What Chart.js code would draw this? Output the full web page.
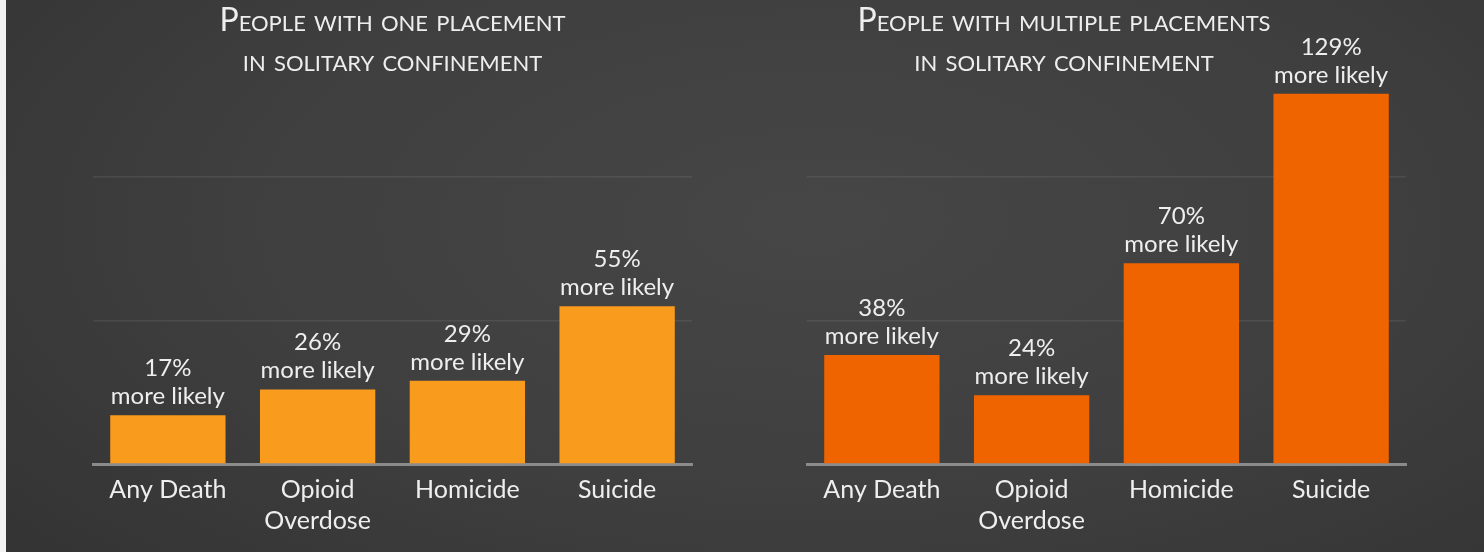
<!DOCTYPE html>
<html>
<head>
<meta charset="utf-8">
<script src="https://cdn.jsdelivr.net/npm/chart.js@4"></script>
<style>
  html, body { margin: 0; padding: 0; }
  body {
    width: 1484px; height: 552px; overflow: hidden; position: relative;
    background: radial-gradient(ellipse 70% 90% at 55% 40%, #464646 0%, #3f3f3f 55%, #343434 100%);
  }
  #strip { position: absolute; left: 0; top: 0; width: 6px; height: 552px; background: #f2f2f2; }
  canvas { position: absolute; top: 0; }
  #one { left: 0; }
  #multi { left: 722px; }
</style>
</head>
<body>
<div id="strip"></div>
<canvas id="one" width="742" height="552"></canvas>
<canvas id="multi" width="762" height="552"></canvas>
<script>
// categories and values (percent more likely)
let CATEGORIES = [["Any Death"], ["Opioid", "Overdose"], ["Homicide"], ["Suicide"]];
let ONE_PLACEMENT = [17, 26, 29, 55];
let MULTI_PLACEMENTS = [38, 24, 70, 129];
let GRID_VALUES = [50, 100];

let ORANGE = "#f99b1c";
let DARK_ORANGE = "#f06400";
let TEXT = "#eeeeee";

// two-line label over each bar: "NN%" / "more likely"
var barLabels = {
  id: 'barLabels',
  afterDatasetsDraw(chart) {
    var ctx = chart.ctx;
    var meta = chart.getDatasetMeta(0);
    var values = chart.data.datasets[0].data;
    ctx.save();
    ctx.fillStyle = TEXT;
    ctx.font = "24px Lato";
    ctx.textAlign = "center";
    ctx.textBaseline = "middle";
    meta.data.forEach(function(bar, i) {
      ctx.fillText(values[i] + "%", bar.x, bar.y - 47);
      ctx.fillText("more likely", bar.x, bar.y - 19);
    });
    ctx.restore();
  }
};

function makeChart(id, title, values, color, yWidth, padRight, fullTitle) {
  var ctx = document.getElementById(id).getContext('2d');
  return new Chart(ctx, {
    type: 'bar',
    data: {
      labels: CATEGORIES,
      datasets: [{
        data: values,
        backgroundColor: color,
        barPercentage: 0.77,
        categoryPercentage: 1.0
      }]
    },
    options: {
      responsive: false,
      animation: false,
      devicePixelRatio: 1,
      layout: { padding: { left: fullTitle ? 0 : 93, right: padRight, top: 0, bottom: 0 } },
      plugins: {
        legend: { display: false },
        tooltip: { enabled: false },
        title: {
          display: true,
          text: title,
          color: TEXT,
          fullSize: fullTitle,
          font: { family: 'Lato', size: 32, weight: 'small-caps', lineHeight: 1.25 },
          padding: { top: 1, bottom: 10 }
        }
      },
      scales: {
        x: {
          grid: { display: false, drawTicks: false },
          border: { display: true, color: '#8b8b8b', width: 3 },
          ticks: { color: TEXT, padding: 10, maxRotation: 0, font: { family: 'Lato', size: 25, lineHeight: 1.24 } },
          afterFit: function(axis) { axis.height = 88; }
        },
        y: {
          min: 0,
          max: 130,
          ticks: { display: false, stepSize: 50 },
          border: { display: false },
          grid: {
            drawTicks: false,
            lineWidth: 1.5,
            color: function(c) {
              return GRID_VALUES.indexOf(c.tick.value) >= 0 ? 'rgba(255,255,255,0.08)' : 'rgba(0,0,0,0)';
            }
          },
          afterFit: function(axis) { axis.width = yWidth; }
        }
      }
    },
    plugins: [barLabels]
  });
}

makeChart('one', ['People with one placement', 'in solitary confinement'], ONE_PLACEMENT, ORANGE, 0, 50, false);
makeChart('multi', ['People with multiple placements', 'in solitary confinement'], MULTI_PLACEMENTS, DARK_ORANGE, 85, 78, true);
</script>
</body>
</html>
